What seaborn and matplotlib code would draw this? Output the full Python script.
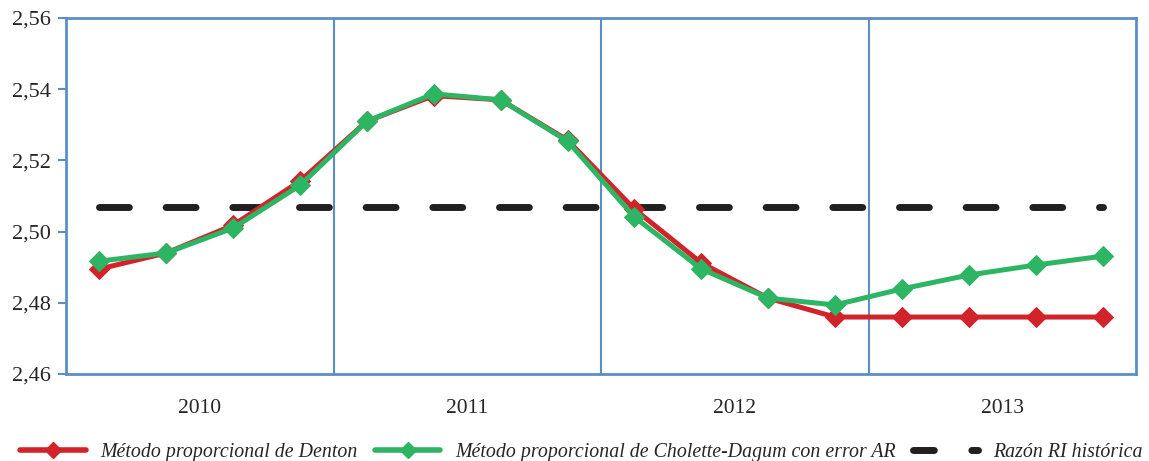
import numpy as np
import pandas as pd
import matplotlib
matplotlib.use("Agg")
import matplotlib.pyplot as plt
import seaborn as sns
from matplotlib.lines import Line2D

years = ["2010", "2011", "2012", "2013"]
quarters = list(range(16))
denton = [2.4895, 2.4940, 2.5018, 2.5142, 2.5310, 2.5382, 2.5370, 2.5257,
          2.5063, 2.4912, 2.4813, 2.4760, 2.4760, 2.4760, 2.4760, 2.4760]
cholette = [2.4917, 2.4940, 2.5010, 2.5130, 2.5310, 2.5387, 2.5370, 2.5254,
            2.5041, 2.4895, 2.4813, 2.4794, 2.4839, 2.4878, 2.4906, 2.4931]
razon = [2.5069] * 16
yticks = [2.46, 2.48, 2.50, 2.52, 2.54, 2.56]
labels = ["Método proporcional de Denton",
          "Método proporcional de Cholette-Dagum con error AR",
          "Razón RI histórica"]

sns.set_style("white")
plt.rcParams['font.family'] = ['Liberation Serif', 'DejaVu Serif']

RED = "#d1232a"
GREEN = "#2db563"
BLUE = "#5b8ec8"
BLACK = "#231f20"

fig = plt.figure(figsize=(11.49, 4.61), dpi=100)
ax = fig.add_axes([66/1149, 1 - 374/461, 1070/1149, 356/461])

sns.lineplot(x=quarters, y=razon, ax=ax, color=BLACK, lw=5,
             dashes=False, legend=False)
ln = ax.lines[-1]
ln.set_dashes([4.3, 5.3])
ln.set_dash_capstyle("round")

sns.lineplot(x=quarters, y=denton, ax=ax, color=RED, lw=3.6, marker="D",
             markersize=10, markeredgecolor=RED, legend=False)
sns.lineplot(x=quarters, y=cholette, ax=ax, color=GREEN, lw=3.6, marker="D",
             markersize=10, markeredgecolor=GREEN, legend=False)

ax.set_xlim(-0.5, 15.5)
ax.set_ylim(2.46, 2.56)
ax.set_yticks(yticks)
ax.set_yticklabels([f"{v:.2f}".replace(".", ",") for v in yticks], fontsize=16)
ax.set_xticks([1.5, 5.5, 9.5, 13.5])
ax.set_xticklabels(years, fontsize=15.5)
ax.tick_params(axis="x", length=0, pad=18)
ax.tick_params(axis="y", length=6, width=1.5, color=BLUE, direction="out", left=True, pad=5)
for b in [3.5, 7.5, 11.5]:
    ax.axvline(b, color=BLUE, lw=1.5, zorder=0)
for s in ax.spines.values():
    s.set_color(BLUE)
    s.set_linewidth(2)
ax.set_xlabel("")
ax.set_ylabel("")

handles = [
    Line2D([], [], color=RED, lw=4, marker="D", markersize=8),
    Line2D([], [], color=GREEN, lw=4, marker="D", markersize=8),
    Line2D([], [], color=BLACK, lw=5, dashes=[3.0, 5.4], dash_capstyle="round"),
]
fig.legend(handles, labels, loc="center", bbox_to_anchor=(0.506, 9/461), ncol=3,
           frameon=False, prop={"style": "italic", "size": 14.3},
           handlelength=3.3, columnspacing=0.85, handletextpad=0.75)

fig.savefig("out.png", dpi=100)
